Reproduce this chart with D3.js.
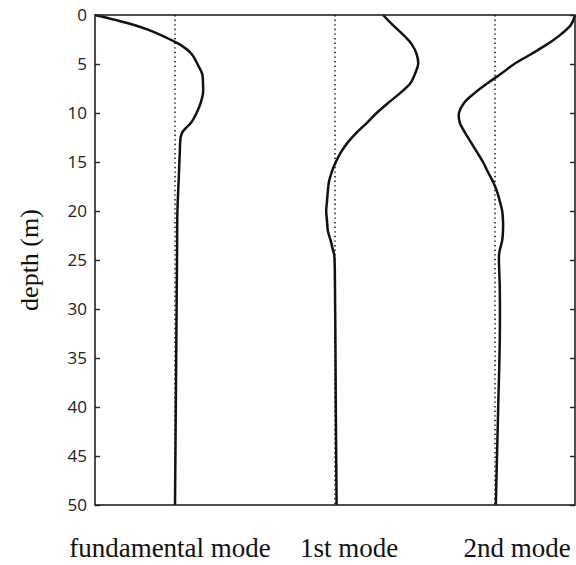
<!DOCTYPE html>
<html lang="en">
<head>
  <meta charset="UTF-8">
  <title>Mode shapes</title>
  <script src="https://cdnjs.cloudflare.com/ajax/libs/d3/7.6.1/d3.min.js"></script>
  <style>
    body { margin: 0; background: #fff; }
    .tick text { font-family: "Open Sans", sans-serif; font-size: 17px; fill: #222; }
    .label { font-family: "Liberation Serif", serif; font-size: 27px; fill: #111; }
    .ylabel { font-family: "Liberation Serif", serif; font-size: 26px; fill: #111; }
    .mode { fill: none; stroke: #111; stroke-width: 2.5px; }
    .zero { stroke: #222; stroke-width: 1.6px; stroke-dasharray: 1.4,3.2; }
  </style>
</head>
<body>
<div id="wrapper"></div>
<script>
// depth (m) where each mode shape is sampled
const depths = [0, 0.5, 1, 1.5, 2, 2.5, 3, 4, 5, 6, 7, 8, 9, 10, 11, 11.5, 12, 12.5, 14, 16, 18, 20, 25, 30, 40, 50];
const fundamental = [-1.0, -0.75, -0.52, -0.34, -0.19, -0.06, 0.06, 0.21, 0.28, 0.34, 0.35, 0.35, 0.32, 0.27, 0.2, 0.14, 0.09, 0.07, 0.06, 0.05, 0.04, 0.03, 0.025, 0.02, 0.01, 0.0];

const depths2 = [0, 1, 2, 3, 4, 5, 6, 7, 8, 9, 10, 11, 12, 13, 14, 15, 16, 17, 18, 19, 20, 21, 22, 23, 24, 24.5, 28, 33, 40, 50];
const firstMode = [0.6, 0.72, 0.85, 0.96, 1.02, 1.04, 1.0, 0.94, 0.81, 0.66, 0.52, 0.4, 0.27, 0.16, 0.075, 0.01, -0.04, -0.075, -0.09, -0.1, -0.11, -0.1, -0.09, -0.055, -0.025, -0.01, 0.0, 0.005, 0.01, 0.02];
const secondMode = [1.0, 0.95, 0.82, 0.65, 0.45, 0.24, 0.075, -0.1, -0.26, -0.39, -0.45, -0.44, -0.375, -0.3, -0.225, -0.15, -0.09, -0.025, 0.025, 0.06, 0.09, 0.1, 0.1, 0.09, 0.06, 0.05, 0.06, 0.06, 0.04, 0.01];

const modeNames = ["fundamental mode", "1st mode", "2nd mode"];
const depthTicks = [0, 5, 10, 15, 20, 25, 30, 35, 40, 45, 50];

const width = 576, height = 565;
const margin = { top: 15, right: 1, bottom: 60, left: 95 };

const svg = d3.select("#wrapper").append("svg")
  .attr("width", width)
  .attr("height", height);

// each mode gets 2 units of width, centred on 0, 2, 4
const x = d3.scaleLinear().domain([-1, 5]).range([margin.left, width - margin.right]);
const y = d3.scaleLinear().domain([0, 50]).range([margin.top, height - margin.bottom]);

const modes = [
  depths.map((d, i) => ({ depth: d, v: fundamental[i] })),
  depths2.map((d, i) => ({ depth: d, v: firstMode[i] })),
  depths2.map((d, i) => ({ depth: d, v: secondMode[i] }))
];

// dotted zero lines
svg.append("g").selectAll("line")
  .data(modes)
  .join("line")
  .attr("class", "zero")
  .attr("x1", (d, i) => x(2 * i))
  .attr("x2", (d, i) => x(2 * i))
  .attr("y1", y(0))
  .attr("y2", y(50));

const line = (i) => d3.line()
  .x(d => x(2 * i + d.v))
  .y(d => y(d.depth))
  .curve(d3.curveCatmullRom.alpha(0.5));

svg.append("g").selectAll("path")
  .data(modes)
  .join("path")
  .attr("class", "mode")
  .attr("d", (d, i) => line(i)(d));

// frame
svg.append("rect")
  .attr("x", x(-1))
  .attr("y", y(0))
  .attr("width", x(5) - x(-1))
  .attr("height", y(50) - y(0))
  .attr("fill", "none")
  .attr("stroke", "#222")
  .attr("stroke-width", 1.6);

const left = svg.append("g")
  .attr("transform", `translate(${x(-1)},0)`)
  .call(d3.axisLeft(y).tickValues(depthTicks).tickSizeInner(-5).tickSizeOuter(0).tickPadding(8));
left.select(".domain").remove();
left.selectAll(".tick line").attr("stroke", "#222").attr("stroke-width", 1.4);

const right = svg.append("g")
  .attr("transform", `translate(${x(5)},0)`)
  .call(d3.axisRight(y).tickValues(depthTicks).tickSizeInner(-5).tickSizeOuter(0).tickFormat(""));
right.select(".domain").remove();
right.selectAll(".tick line").attr("stroke", "#222").attr("stroke-width", 1.4);

// mode names under the plot
const nameShift = [-5, 14, 22];
svg.append("g").selectAll("text")
  .data(modeNames)
  .join("text")
  .attr("class", "label")
  .attr("x", (d, i) => x(2 * i) + nameShift[i])
  .attr("y", 557)
  .attr("text-anchor", "middle")
  .text(d => d);

svg.append("text")
  .attr("class", "ylabel")
  .attr("transform", `translate(38,${y(25)}) rotate(-90)`)
  .attr("text-anchor", "middle")
  .text("depth (m)");
</script>
</body>
</html>
